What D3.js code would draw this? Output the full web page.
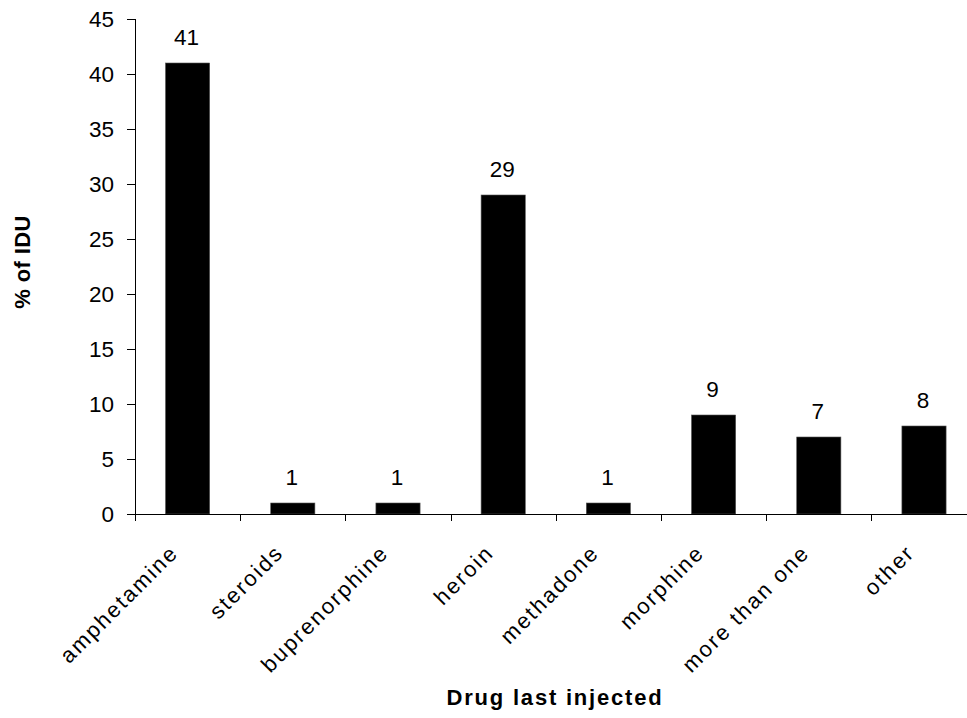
<!DOCTYPE html>
<html>
<head>
<meta charset="utf-8">
<script src="https://cdn.jsdelivr.net/npm/d3@7"></script>
<style>
  html, body { margin: 0; padding: 0; background: #fff; }
  svg { display: block; }
  text { font-family: "Liberation Sans", Arial, sans-serif; fill: #000; }
</style>
</head>
<body>
<svg id="chart" width="967" height="718"></svg>
<script>
const categories = ["amphetamine", "steroids", "buprenorphine", "heroin", "methadone", "morphine", "more than one", "other"];
const values = [41, 1, 1, 29, 1, 9, 7, 8];
const yTicks = [0, 5, 10, 15, 20, 25, 30, 35, 40, 45];
const xTitle = "Drug last injected";
const yTitle = "% of IDU";

(function () {
const svg = d3.select("#chart");
const mLeft = 135, mBottom = 514, mTop = 19;
const step = 105.2;
const mRight = mLeft + step * categories.length;

const x = d3.scaleBand()
  .domain(categories)
  .range([mLeft, mRight])
  .paddingInner(0.58)
  .paddingOuter(0.29);

const y = d3.scaleLinear().domain([0, 45]).range([mBottom, mTop]);

const data = categories.map((c, i) => ({c, v: values[i]}));

// bars
svg.append("g").selectAll("rect")
  .data(data)
  .join("rect")
  .attr("x", d => x(d.c))
  .attr("y", d => y(d.v))
  .attr("width", x.bandwidth())
  .attr("height", d => y(0) - y(d.v))
  .attr("fill", "#000")
  .attr("stroke", "#555")
  .attr("stroke-width", 0.6);

// value labels
svg.append("g").selectAll("text")
  .data(data)
  .join("text")
  .attr("x", d => x(d.c) + x.bandwidth() / 2 - 1)
  .attr("y", d => y(d.v) - 18)
  .attr("text-anchor", "middle")
  .attr("font-size", 22.5)
  .text(d => d.v);

// y axis
const yAxis = d3.axisLeft(y).tickValues(yTicks).tickSize(8).tickPadding(13);
const gy = svg.append("g").attr("transform", `translate(${mLeft},0)`).call(yAxis);
gy.select(".domain").attr("stroke", "#000").attr("d", `M0.5,${mTop}V${mBottom}`);
gy.selectAll(".tick line").attr("stroke", "#000");
gy.selectAll(".tick text").attr("font-size", 22.5).attr("font-family", "Liberation Sans, Arial, sans-serif").attr("fill", "#000");

// x axis line
svg.append("line")
  .attr("x1", mLeft).attr("x2", mRight)
  .attr("y1", mBottom + 0.5).attr("y2", mBottom + 0.5)
  .attr("stroke", "#000");

// x tick marks at category boundaries
const boundaries = categories.map(c => x(c) - x.step() * x.paddingInner() / 2);
svg.append("g").selectAll("line")
  .data(boundaries)
  .join("line")
  .attr("x1", d => Math.round(d) + 0.5).attr("x2", d => Math.round(d) + 0.5)
  .attr("y1", mBottom).attr("y2", mBottom + 7)
  .attr("stroke", "#000");

// category labels
svg.append("g").selectAll("text")
  .data(categories)
  .join("text")
  .attr("transform", d => `translate(${x(d) + x.bandwidth() / 2 - 8},${mBottom + 40}) rotate(-45)`)
  .attr("text-anchor", "end")
  .attr("font-size", 22)
  .attr("letter-spacing", 2.1)
  .text(d => d);

// axis titles
svg.append("text")
  .attr("x", 555).attr("y", 705)
  .attr("text-anchor", "middle")
  .attr("font-size", 22)
  .attr("font-weight", "bold")
  .attr("letter-spacing", 1.8)
  .text(xTitle);

svg.append("text")
  .attr("transform", `translate(30,262) rotate(-90)`)
  .attr("text-anchor", "middle")
  .attr("font-size", 22)
  .attr("font-weight", "bold")
  .attr("letter-spacing", 0.4)
  .text(yTitle);
})();
</script>
</body>
</html>
